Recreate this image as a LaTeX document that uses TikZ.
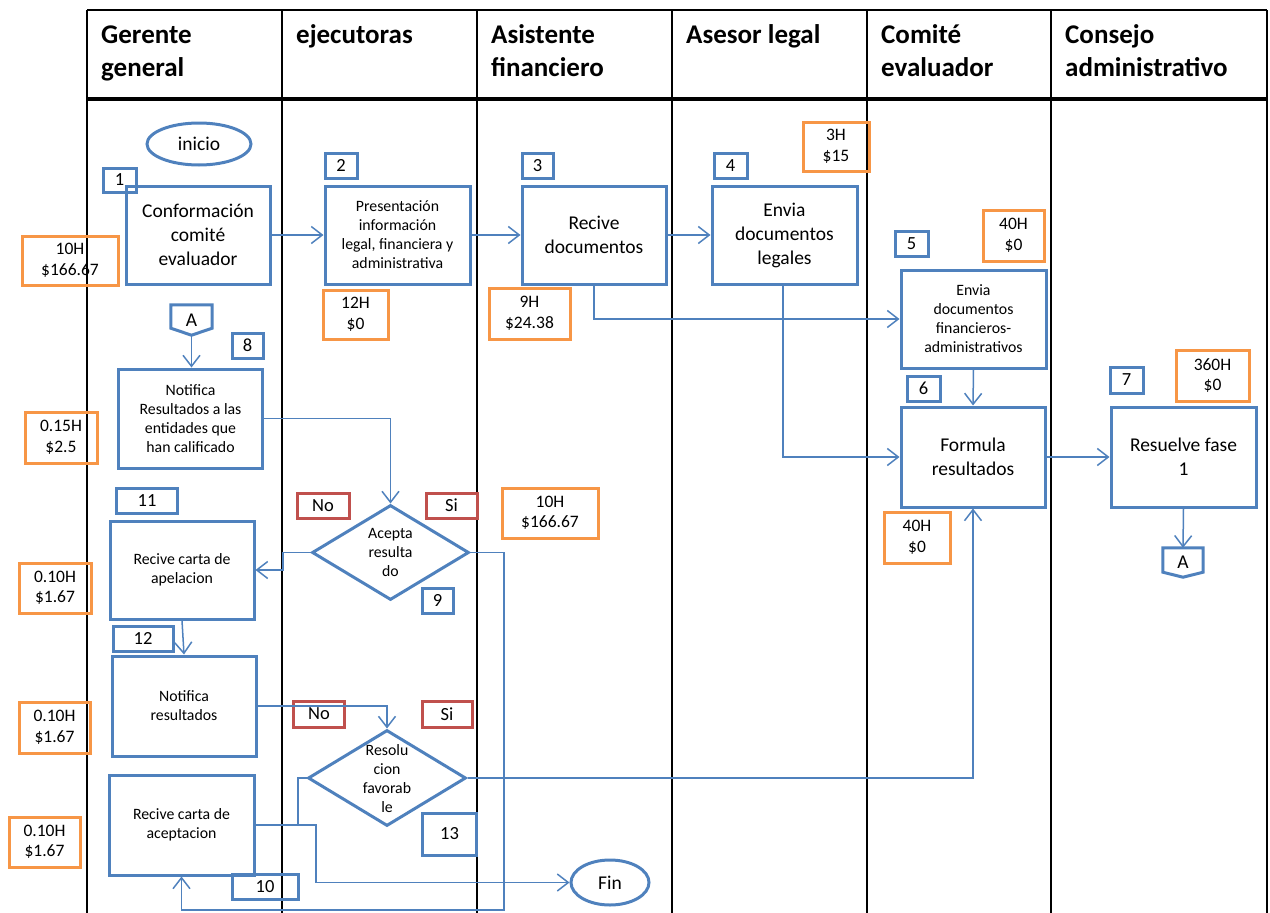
\documentclass[tikz,border=0pt]{standalone}
\usepackage{fontspec}
\setmainfont{Carlito}
\usetikzlibrary{shapes.geometric,arrows.meta,calc}

\definecolor{flowblue}{RGB}{79,129,189}
\definecolor{costorange}{RGB}{247,150,70}
\definecolor{decred}{RGB}{192,80,77}

\newcommand{\headtxt}{\fontsize{27}{33}\selectfont\bfseries}
\newcommand{\bigtxt}{\fontsize{19.5}{24}\selectfont}
\newcommand{\smalltxt}{\fontsize{15.8}{19}\selectfont}
\newcommand{\costtxt}{\fontsize{17.5}{20.5}\selectfont}
\newcommand{\labtxt}{\fontsize{18.5}{22}\selectfont}

\tikzset{
  lane/.style={draw=black, line width=1.5pt},
  headtext/.style={anchor=base west, inner sep=0pt, font=\headtxt},
  proc/.style={rectangle, draw=flowblue, line width=3pt, inner sep=0pt,
    align=center, font=\bigtxt},
  proctext/.style={inner sep=0pt, align=center, font=\smalltxt},
  dia/.style={diamond, draw=flowblue, line width=3pt, inner sep=0pt},
  term/.style={ellipse, draw=flowblue, line width=3pt, inner sep=0pt, font=\bigtxt},
  offpage/.style={inner sep=0pt, font=\bigtxt},
  numlab/.style={rectangle, draw=flowblue, line width=3pt, inner sep=0pt, font=\labtxt},
  cost/.style={rectangle, draw=costorange, line width=3pt, inner sep=0pt,
    align=center, font=\costtxt},
  yn/.style={rectangle, draw=decred, line width=3pt, inner sep=0pt, font=\labtxt},
  flowline/.style={draw=flowblue, line width=1.5pt},
  flow/.style={flowline, -{Straight Barb[length=11pt,width=17pt]}},
}

\begin{document}
\begin{tikzpicture}[x=1pt, y=-1pt]
\useasboundingbox (0,0) rectangle (1270,913);

% swimlane table
\draw[lane] (87,10) -- (1267,10);
\foreach \lx in {87,282,477,672,867,1051,1267}
  \draw[lane] (\lx,10) -- (\lx,913);
\draw[line width=3.5pt] (87,99) -- (1267,99);

% lane headings
\node[headtext] (hga) at (101,43) {Gerente};
\node[headtext] (hgb) at (101,76) {general};
\node[headtext] (hej) at (296,43) {ejecutoras};
\node[headtext] (hasa) at (491,43) {Asistente};
\node[headtext] (hasb) at (491,76) {financiero};
\node[headtext] (hal) at (686,43) {Asesor legal};
\node[headtext] (hcoa) at (881,43) {Comité};
\node[headtext] (hcob) at (881,76) {evaluador};
\node[headtext] (hcsa) at (1065,43) {Consejo};
\node[headtext] (hcsb) at (1065,76) {administrativo};

% terminators
\node[term, minimum width=104pt, minimum height=42pt] (ini) at (199,144) {inicio};
\node[term, minimum width=78pt, minimum height=45pt] (fin) at (610,882.5) {Fin};

% process boxes
\node[proc, minimum width=144pt, minimum height=98pt] (b1) at (198,235)
  {Conformación\\comité\\evaluador};
\node[proc, font=\smalltxt, minimum width=145pt, minimum height=98pt] (b2) at (397.5,235)
  {Presentación\\información\\legal, financiera y\\administrativa};
\node[proc, minimum width=144pt, minimum height=98pt] (b3) at (594,235)
  {Recive\\documentos};
\node[proc, minimum width=145pt, minimum height=98pt] (b4) at (784.5,235)
  {Envia\\documentos\\legales};
\node[proc, font=\smalltxt, minimum width=145pt, minimum height=98pt] (b5) at (973.5,319)
  {Envia\\documentos\\financieros-\\administrativos};
\node[proc, minimum width=144pt, minimum height=100pt] (b6) at (973,457)
  {Formula\\resultados};
\node[proc, minimum width=145pt, minimum height=100pt] (b7) at (1183.5,457)
  {Resuelve fase\\1};
\node[proc, font=\smalltxt, minimum width=144pt, minimum height=99pt] (b8) at (190.5,418.5)
  {Notifica\\Resultados a las\\entidades que\\han calificado};
\node[proc, font=\smalltxt, minimum width=144pt, minimum height=98pt] (b11) at (182,570)
  {Recive carta de\\apelacion};
\node[proc, font=\smalltxt, minimum width=144pt, minimum height=100pt] (b12) at (184,706)
  {Notifica\\resultados};
\node[proc, font=\smalltxt, minimum width=145pt, minimum height=100pt] (b10) at (181.5,825)
  {Recive carta de\\aceptacion};

% decisions
\node[dia, minimum width=157pt, minimum height=95pt] (d9) at (390.5,552.5) {};
\node[proctext] (d9t) at (d9.center) {Acepta\\resulta\\do};
\node[dia, minimum width=158pt, minimum height=96pt] (d13) at (387,778) {};
\node[proctext] (d13t) at (387,779) {Resolu\\cion\\favorab\\le};

% off-page connectors
\node[offpage, minimum width=41pt, minimum height=30pt] (A1) at (191.5,320) {A};
\draw[draw=flowblue, line width=3pt] (A1.north west) -- (A1.north east)
  -- ([yshift=7pt]A1.south east) -- (A1.south) -- ([yshift=7pt]A1.south west) -- cycle;
\node[offpage, minimum width=40pt, minimum height=29pt] (A2) at (1183,562.5) {A};
\draw[draw=flowblue, line width=3pt] (A2.north west) -- (A2.north east)
  -- ([yshift=5pt]A2.south east) -- (A2.south) -- ([yshift=5pt]A2.south west) -- cycle;

% step numbers
\node[numlab, minimum width=33pt, minimum height=24pt] (n1) at (119.5,180) {1};
\node[numlab, minimum width=32pt, minimum height=25pt] (n2) at (341,165.5) {2};
\node[numlab, minimum width=31pt, minimum height=25pt] (n3) at (537.5,165.5) {3};
\node[numlab, minimum width=33pt, minimum height=25pt] (n4) at (730.5,165.5) {4};
\node[numlab, minimum width=33pt, minimum height=25pt] (n5) at (911.5,243.5) {5};
\node[numlab, minimum width=33pt, minimum height=25pt] (n6) at (923.5,388.5) {6};
\node[numlab, minimum width=33pt, minimum height=26pt] (n7) at (1126.5,380) {7};
\node[numlab, minimum width=31pt, minimum height=25pt] (n8) at (247.5,345.5) {8};
\node[numlab, minimum width=31pt, minimum height=25pt] (n9) at (437.5,600.5) {9};
\node[numlab, minimum width=61pt, minimum height=25pt] (n11) at (147,500.5) {11};
\node[numlab, minimum width=60pt, minimum height=25pt] (n12) at (143,638.5) {12};
\node[numlab, minimum width=54pt, minimum height=42pt] (n13) at (449.5,834) {13};
\node[numlab, minimum width=66pt, minimum height=25pt] (n10) at (265,886.5) {10};

% time and cost
\node[cost, minimum width=96pt, minimum height=49pt] (c1) at (70,260.5) {10H\\\$166.67};
\node[cost, minimum width=65pt, minimum height=49pt] (c2) at (355.5,314.5) {12H\\\$0};
\node[cost, minimum width=81pt, minimum height=51pt] (c3) at (529.5,313.5) {9H\\\$24.38};
\node[cost, minimum width=66pt, minimum height=49pt] (c4) at (836,146.5) {3H\\\$15};
\node[cost, minimum width=61pt, minimum height=51pt] (c5) at (1013.5,235.5) {40H\\\$0};
\node[cost, minimum width=66pt, minimum height=51pt] (c6) at (917,537.5) {40H\\\$0};
\node[cost, minimum width=73pt, minimum height=51pt] (c7) at (1212.5,375.5) {360H\\\$0};
\node[cost, minimum width=72pt, minimum height=51pt] (c8) at (61,437.5) {0.15H\\\$2.5};
\node[cost, minimum width=96pt, minimum height=50pt] (c9) at (550,513) {10H\\\$166.67};
\node[cost, minimum width=72pt, minimum height=50pt] (c10) at (55,588) {0.10H\\\$1.67};
\node[cost, minimum width=71pt, minimum height=51pt] (c11) at (54.5,727.5) {0.10H\\\$1.67};
\node[cost, minimum width=71pt, minimum height=50pt] (c12) at (44.5,842) {0.10H\\\$1.67};

% decision answers
\node[yn, minimum width=52pt, minimum height=25pt] (no1) at (323,505.5) {No};
\node[yn, minimum width=51pt, minimum height=25pt] (si1) at (451.5,505.5) {Si};
\node[yn, minimum width=51pt, minimum height=26pt] (no2) at (319,714) {No};
\node[yn, minimum width=50pt, minimum height=26pt] (si2) at (447,714) {Si};

% connectors
\draw[flow] (b1.east) -- (b2.west);
\draw[flow] (b2.east) -- (b3.west);
\draw[flow] (b3.east) -- (b4.west);
\draw[flow] (b3.south) |- (b5.west);
\draw[flow] ([xshift=-1.5pt]b4.south) |- (b6.west);
\draw[flow] (b5.south) -- (b6.north);
\draw[flow] (b6.east) -- (b7.west);
\draw[flow] (b7.south) -- (A2.north);
\draw[flow] (A1.south) -- (A1.south |- b8.north);
\draw[flow] (b8.east) -| (d9.north);
\draw[flow] (d9.west) -- (283,552.5) |- (b11.east);
\draw[flow] (b11.south) -- (b12.north);
\draw[flow] (b12.east) -| (d13.north);
\draw[flowline] (d13.west) -- (298,778) -- (298,825);
\draw[flow] (b10.east) -- (316,825) |- (fin.west);
\draw[flow] (d9.east) -- (504,552.5) -- (504,910) -| (b10.south);
\draw[flow] (d13.east) -| (b6.south);
\end{tikzpicture}
\end{document}
